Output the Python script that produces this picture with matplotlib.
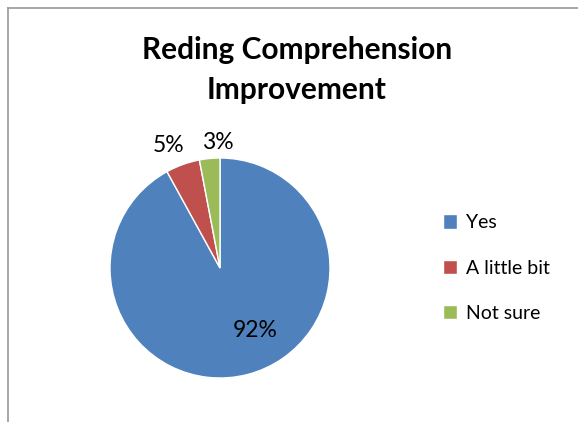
import numpy as np
import matplotlib.pyplot as plt
from matplotlib.lines import Line2D

labels = ['Yes', 'A little bit', 'Not sure']
values = [92, 5, 3]
colors = ['#4F81BD', '#C0504D', '#9BBB59']
label_dist = [0.65, 1.21, 1.14]
label_shift = [15, 3, -4.5]  # degrees, Excel-like label placement

plt.rcParams['font.family'] = ['Lato', 'DejaVu Sans']

fig = plt.figure(figsize=(5.78, 4.22), dpi=100)
W, H = 578, 422

# chart frame (only left and top edges visible in the reference)
fig.add_artist(Line2D([8 / W, 8 / W], [0, 1 - 8 / H], color='#999999', lw=1.2))
fig.add_artist(Line2D([8 / W, 1], [1 - 8 / H, 1 - 8 / H], color='#999999', lw=1.2))

cx, cy, r = 220, 268, 110
ax = fig.add_axes([(cx - r) / W, (H - cy - r) / H, 2 * r / W, 2 * r / H])
wedges, _ = ax.pie(values, colors=colors, startangle=90, counterclock=False,
                   wedgeprops=dict(edgecolor='white', linewidth=1))
ax.set_xlim(-1, 1)
ax.set_ylim(-1, 1)
ax.set_aspect('equal')
ax.axis('off')

for w, v, d, s in zip(wedges, values, label_dist, label_shift):
    ang = np.deg2rad((w.theta1 + w.theta2) / 2 + s)
    ax.text(d * np.cos(ang), d * np.sin(ang), f'{v}%', ha='center', va='center',
            fontsize=16.5, color='black', clip_on=False)

fig.text(297 / W, 1 - 70 / H, 'Reding Comprehension\nImprovement', ha='center',
         va='center', fontsize=21.5, fontweight='bold', linespacing=1.5)

fig.legend(wedges, labels, loc='center left', bbox_to_anchor=(425 / W, 1 - 268 / H),
           frameon=False, fontsize=14, handlelength=0.75, handleheight=0.75,
           labelspacing=1.45, handletextpad=0.45)

fig.savefig('out.png', dpi=100)
